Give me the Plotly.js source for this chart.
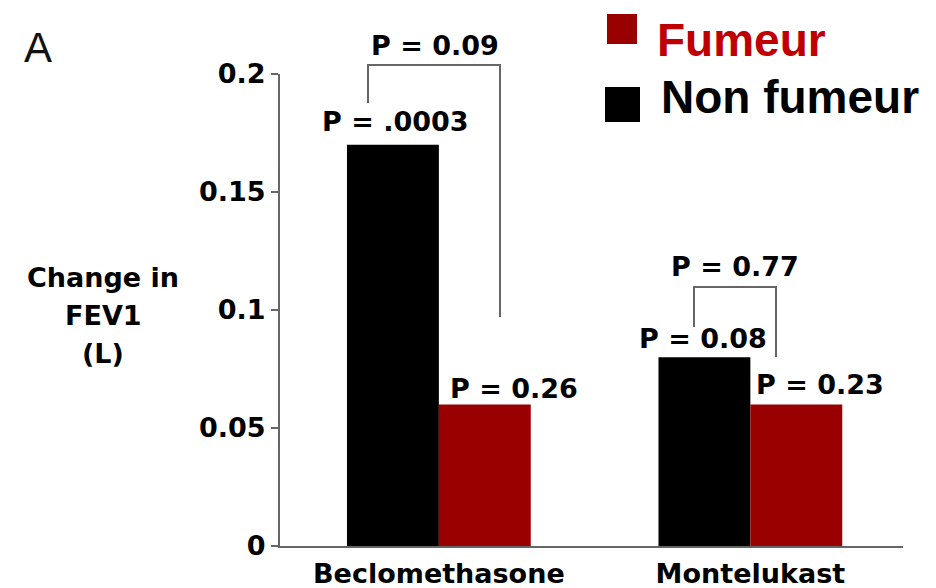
<!DOCTYPE html>
<html>
<head>
<meta charset="utf-8">
<script src="https://cdn.plot.ly/plotly-3.0.1.min.js"></script>
<style>html,body{margin:0;padding:0;background:#fff;}#chart{width:936px;height:588px;}</style>
</head>
<body>
<div id="chart"></div>
<script>
// ---- data ----
var categories = ['Beclomethasone', 'Montelukast'];
var nonFumeur = [0.17, 0.08];
var fumeur = [0.06, 0.06];
var seriesNames = ['Fumeur', 'Non fumeur'];
var pNonFumeur = ['P = .0003', 'P = 0.08'];
var pFumeur = ['P = 0.26', 'P = 0.23'];
var pBetween = ['P = 0.09', 'P = 0.77'];
var yTickVals = [0, 0.05, 0.1, 0.15, 0.2];
var yTickText = ['0', '0.05', '0.1', '0.15', '0.2'];
var yTitleLines = ['Change in', 'FEV1', '(L)'];
var panelLabel = 'A';

// ---- layout helpers (pixel -> paper) ----
var L = 280, R = 33, T = 74, B = 42, W = 936, H = 588;
var pw = W - L - R, ph = H - T - B;
function px(x) { return (x - L) / pw; }
function py(y) { return (H - B - y) / ph; }

var boldV = {family: 'DejaVu Sans, Verdana, sans-serif', size: 27, color: '#000', weight: 'bold'};
var gray = '#666';

var traces = [
  {type: 'bar', x: categories, y: nonFumeur, name: seriesNames[1],
   marker: {color: '#000000', line: {width: 0}}, hoverinfo: 'none'},
  {type: 'bar', x: categories, y: fumeur, name: seriesNames[0],
   marker: {color: '#990000', line: {width: 0}}, hoverinfo: 'none'}
];

function ann(text, x, y, font, xanchor) {
  return {text: text, x: px(x), y: py(y), xref: 'paper', yref: 'paper',
          showarrow: false, xanchor: xanchor || 'center', yanchor: 'middle', font: font};
}

var annotations = [
  ann(pNonFumeur[0], 395, 122, boldV),
  ann(pFumeur[0], 514, 388, boldV),
  ann(pBetween[0], 435, 45, boldV),
  ann(pNonFumeur[1], 703, 338, boldV),
  ann(pFumeur[1], 820, 384, boldV),
  ann(pBetween[1], 735, 266, boldV),
  ann(yTitleLines[0], 103, 277, boldV),
  ann(yTitleLines[1], 103, 315, boldV),
  ann(yTitleLines[2], 103, 353, boldV),
  ann(panelLabel, 38, 48, {family: 'Liberation Sans, Arial, sans-serif', size: 42, color: '#111'}),
  ann(seriesNames[0], 655, 40, {family: 'Liberation Sans, Arial, sans-serif', size: 46, color: '#c00000', weight: 'bold'}, 'left'),
  ann(seriesNames[1], 659, 97, {family: 'Liberation Sans, Arial, sans-serif', size: 46, color: '#000', weight: 'bold'}, 'left')
];

function bracket(xl, yl, yTop, xr, yr) {
  return {type: 'path', xref: 'paper', yref: 'paper',
    path: 'M' + px(xl) + ',' + py(yl) + ' L' + px(xl) + ',' + py(yTop) +
          ' L' + px(xr) + ',' + py(yTop) + ' L' + px(xr) + ',' + py(yr),
    line: {color: gray, width: 2}};
}
function rect(x0, y0, x1, y1, color) {
  return {type: 'rect', xref: 'paper', yref: 'paper',
    x0: px(x0), x1: px(x1), y0: py(y0), y1: py(y1),
    fillcolor: color, line: {width: 0}};
}

var shapes = [
  bracket(368, 103, 65, 500, 317),
  bracket(694, 327, 287, 776, 357),
  rect(607, 14, 637, 44, '#990000'),
  rect(605, 87, 640, 122, '#000000')
];

var layout = {
  width: W, height: H,
  margin: {l: L, r: R, t: T, b: B, pad: 0},
  paper_bgcolor: '#fff', plot_bgcolor: '#fff',
  showlegend: false,
  barmode: 'group', bargap: 0.41, bargroupgap: 0,
  xaxis: {type: 'category', range: [-0.51, 1.49], showline: true, linecolor: gray, linewidth: 2,
          ticks: '', showgrid: false, zeroline: false, automargin: false,
          ticklabelstandoff: 3, tickfont: boldV, fixedrange: true},
  yaxis: {range: [0, 0.2], showline: true, linecolor: gray, linewidth: 2,
          ticks: 'outside', ticklen: 7, tickwidth: 2, tickcolor: gray,
          tickvals: yTickVals, ticktext: yTickText, showgrid: false, zeroline: false,
          automargin: false, tickfont: boldV, fixedrange: true},
  annotations: annotations,
  shapes: shapes
};

Plotly.newPlot('chart', traces, layout, {staticPlot: true, displayModeBar: false});
</script>
</body>
</html>
